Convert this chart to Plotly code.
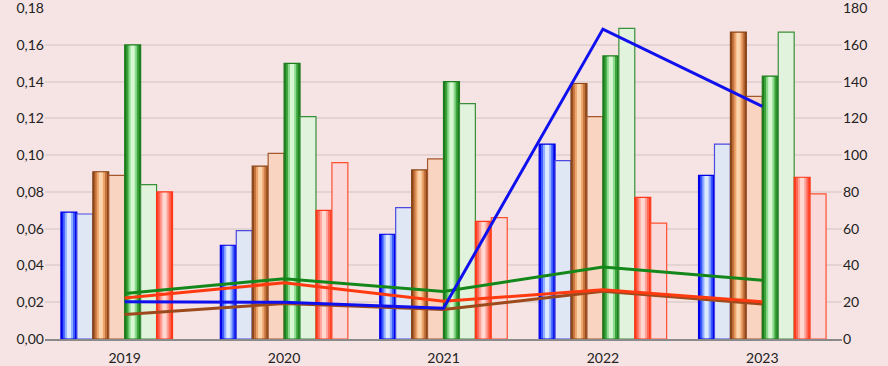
import plotly.graph_objects as go

years = ["2019", "2020", "2021", "2022", "2023"]

# bar series (left axis)
blue_a = [0.069, 0.051, 0.057, 0.106, 0.089]
blue_b = [0.068, 0.059, 0.0715, 0.097, 0.106]
brown_a = [0.091, 0.094, 0.092, 0.139, 0.167]
brown_b = [0.089, 0.101, 0.098, 0.121, 0.132]
green_a = [0.160, 0.150, 0.140, 0.154, 0.143]
green_b = [0.084, 0.121, 0.128, 0.169, 0.167]
red_a = [0.080, 0.070, 0.064, 0.077, 0.088]
red_b = [None, 0.096, 0.066, 0.063, 0.079]

# line series (right axis)
line_brown = [13.3, 19.3, 16.0, 26.0, 19.0]
line_red = [22.3, 30.6, 20.5, 26.8, 20.2]
line_green = [24.7, 32.8, 25.9, 39.1, 31.9]
line_blue = [20.2, 20.0, 16.7, 168.6, 126.5]

left_ticks = [0.0, 0.02, 0.04, 0.06, 0.08, 0.10, 0.12, 0.14, 0.16, 0.18]
right_ticks = [0, 20, 40, 60, 80, 100, 120, 140, 160, 180]

fig = go.Figure()

slot_w = 0.1
def slot_offset(i):
    return -0.4 + i * slot_w

def solid_bar(vals, i, shades):
    # cylinder-like gradient using nested bars
    fracs = [1.0, 0.78, 0.52, 0.26]
    for f, c in zip(fracs, shades):
        w = slot_w * f
        off = slot_offset(i) + (slot_w - w) / 2
        fig.add_trace(go.Bar(
            x=years, y=vals, width=w, offset=off,
            marker=dict(color=c, line=dict(width=0)),
            showlegend=False, hoverinfo="skip"))
    fig.add_trace(go.Bar(
        x=years, y=vals, width=slot_w, offset=slot_offset(i),
        marker=dict(color="rgba(0,0,0,0)", line=dict(color=shades[0], width=1.2)),
        showlegend=False, hoverinfo="skip"))

def light_bar(vals, i, fill, edge):
    fig.add_trace(go.Bar(
        x=years, y=vals, width=slot_w, offset=slot_offset(i),
        marker=dict(color=fill, line=dict(color=edge, width=1.2)),
        showlegend=False, hoverinfo="skip"))

solid_bar(blue_a, 0, ["#0000e8", "#3c5cff", "#93afff", "#dce9ff"])
light_bar(blue_b, 1, "#dfe6f4", "#4a4ae0")
solid_bar(brown_a, 2, ["#8a461a", "#c4743c", "#eda56d", "#fcd4ab"])
light_bar(brown_b, 3, "#f9d5c1", "#a4562e")
solid_bar(green_a, 4, ["#1d7d1d", "#3ca43c", "#8edb8e", "#d6f7d2"])
light_bar(green_b, 5, "#e2f3dd", "#3a8f3a")
solid_bar(red_a, 6, ["#ff3a1c", "#ff6a58", "#ffa49a", "#ffd8d2"])
light_bar(red_b, 7, "#f9d9d9", "#ff5030")

for vals, col in [(line_brown, "#9c4a1c"), (line_red, "#ff3a10"),
                  (line_green, "#14871a"), (line_blue, "#1010ee")]:
    fig.add_trace(go.Scatter(
        x=years, y=vals, yaxis="y2", mode="lines",
        line=dict(color=col, width=3), showlegend=False, hoverinfo="skip"))

font = dict(family="Lato, Noto Sans, sans-serif", size=14, color="#222222")
fig.update_layout(
    width=888, height=366,
    margin=dict(l=45, r=46, t=8, b=27, autoexpand=False),
    paper_bgcolor="#f6e4e4", plot_bgcolor="#f6e4e4",
    barmode="overlay",
    separators=", ",
    showlegend=False,
    font=font,
    xaxis=dict(type="category", showgrid=False, showline=True,
               linecolor="#8a8a8a", linewidth=1.5, ticks="",
               tickfont=dict(size=14), ticklabelstandoff=5, automargin=False),
    yaxis=dict(range=[0, 0.18 * 1.0004], tickvals=left_ticks, tickformat=".2f",
               showgrid=True, gridcolor="#e3d3d3", gridwidth=1.5,
               zeroline=False, ticks="", tickfont=dict(size=14),
               ticklabeloverflow="allow", automargin=False),
    yaxis2=dict(range=[0, 180 * 1.0004], tickvals=right_ticks, overlaying="y", side="right",
                showgrid=False, zeroline=False, ticks="",
                tickfont=dict(size=14), ticklabeloverflow="allow", automargin=False),
)

fig.write_html("out.html",
               config={"displayModeBar": False},
               post_script="document.body.style.margin='0';document.body.style.overflow='hidden';")
